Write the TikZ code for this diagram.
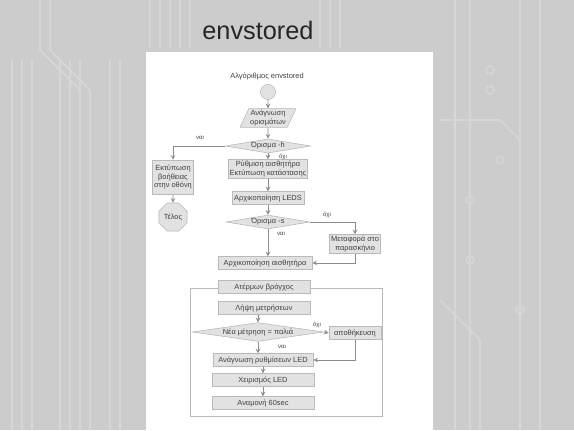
\documentclass[tikz,border=0pt]{standalone}
\usepackage{fontspec}
\setmainfont{Liberation Sans}
\usetikzlibrary{shapes.geometric}
\definecolor{slidebg}{RGB}{204,204,204}
\definecolor{trace}{RGB}{215,215,215}
\definecolor{boxgray}{RGB}{226,226,226}
\definecolor{edgegray}{RGB}{185,185,185}

\begin{document}
\begin{tikzpicture}[x=0.025cm, y=-0.025cm,
  every node/.style={font=\fontsize{5.3}{6.3}\selectfont, text=black!75},
  proc/.style={rectangle, fill=boxgray, draw=edgegray, inner sep=1pt, minimum height=0.32cm, align=center},
  iobox/.style={trapezium, trapezium left angle=65, trapezium right angle=115, fill=boxgray, draw=edgegray, inner sep=1pt, align=center},
  test/.style={diamond, aspect=6, fill=boxgray, draw=edgegray, inner sep=0.5pt},
  flow/.style={->, >=stealth, draw=black!45, line width=0.5pt},
  lbl/.style={font=\fontsize{4.3}{5}\selectfont}]
\useasboundingbox (0,0) rectangle (574,430);
\fill[slidebg] (0,0) rectangle (574,430);
% board traces
\foreach \x in {12,22,32,60,70,80,110,120} \draw[trace, line width=1.2pt] (\x,60) -- (\x,430);
\foreach \x in {40,50} \draw[trace, line width=1.2pt] (\x,0) -- (\x,50) -- (\x+40,90) -- (\x+40,430);
\foreach \x in {150,160,170,180,190,320,330,340} \draw[trace, line width=1.2pt] (\x,0) -- (\x,48);
\foreach \x in {455,470,520,540} \draw[trace, line width=1.2pt] (\x,0) -- (\x,430);
\foreach \x/\y in {490/70,490/90,470/200,500/160,520/310,470/260} \draw[trace, line width=1pt] (\x,\y) circle (4);
\draw[trace, line width=1.2pt] (440,120) -- (500,120) -- (520,140) -- (520,250);
\draw[trace, line width=1.2pt] (440,300) -- (480,340) -- (480,430);

\node[font=\fontsize{18}{20}\selectfont, text=black!85] (title) at (258,30) {envstored};
\fill[white] (146,52) rectangle (433,430);

% upper part
\node (algo) at (267,76) {Αλγόριθμος envstored};
\node[circle, fill=boxgray, draw=edgegray, minimum size=0.38cm] (start) at (268,92) {};
\node[iobox] (args) at (268,118) {Ανάγνωση\\ορισμάτων};
\node[test] (opth) at (268,146) {Όρισμα -h};
\node[proc, minimum width=0.95cm, minimum height=0.85cm] (help) at (173,177) {Εκτύπωση\\βοήθειας\\στην οθόνη};
\node[regular polygon, regular polygon sides=8, fill=boxgray, draw=edgegray, inner sep=0.5pt, minimum size=0.6cm] (stop) at (173,217) {Τέλος};
\node[proc] (sensor) at (268,169) {Ρύθμιση αισθητήρα\\Εκτύπωση κατάστασης};
\node[proc, minimum width=1.8cm] (leds) at (268,198) {Αρχικοποίηση LEDS};
\node[test] (opts) at (268,222) {Όρισμα -s};
\node[proc] (daemon) at (355,244) {Μεταφορά στο\\παρασκήνιο};
\node[proc, minimum width=2.35cm] (init) at (265,263) {Αρχικοποίηση αισθητήρα};

\draw[flow] (start) -- (args);
\draw[flow] (args) -- (opth);
\draw[flow] (opth.west) -| (help.north);
\node[lbl] (yesh) at (200,138) {ναι};
\draw[flow] (opth) -- (sensor);
\node[lbl] (noh) at (283,157) {όχι};
\draw[flow] (help) -- (stop);
\draw[flow] (sensor) -- (leds);
\draw[flow] (leds) -- (opts);
\draw[flow] (opts.east) -| (daemon.north);
\node[lbl] (nos) at (327,215) {όχι};
\draw[flow] (opts) -- (init.north -| opts);
\node[lbl] (yess) at (281,234) {ναι};
\draw[flow] (daemon.south) |- (init.east);

% main loop
\draw[edgegray, line width=0.5pt] (190,288) rectangle (382,416);
\node[proc, minimum width=2.3cm] (loop) at (264,287) {Ατέρμων βρόγχος};
\node[proc, minimum width=2.3cm] (meas) at (264,308) {Λήψη μετρήσεων};
\node[test, aspect=7] (same) at (258,332) {Νέα μέτρηση = παλιά};
\node[proc, minimum width=1.3cm] (store) at (355,333) {αποθήκευση};
\node[proc, minimum width=2.5cm] (ledcfg) at (263,360) {Ανάγνωση ρυθμίσεων LED};
\node[proc, minimum width=2.55cm] (ledctl) at (263,380) {Χειρισμός LED};
\node[proc, minimum width=2.55cm] (wait) at (263,403) {Αναμονή 60sec};

\draw[flow] (meas.south -| same) -- (same);
\draw[flow] (same.east) -- (store.west);
\node[lbl] (nosame) at (317,325) {όχι};
\draw[flow] (same) -- (ledcfg.north -| same);
\node[lbl] (yessame) at (282,347) {ναι};
\draw[flow] (store.south) |- (ledcfg.east);
\draw[flow] (ledcfg) -- (ledctl);
\draw[flow] (ledctl) -- (wait);
\end{tikzpicture}
\end{document}
